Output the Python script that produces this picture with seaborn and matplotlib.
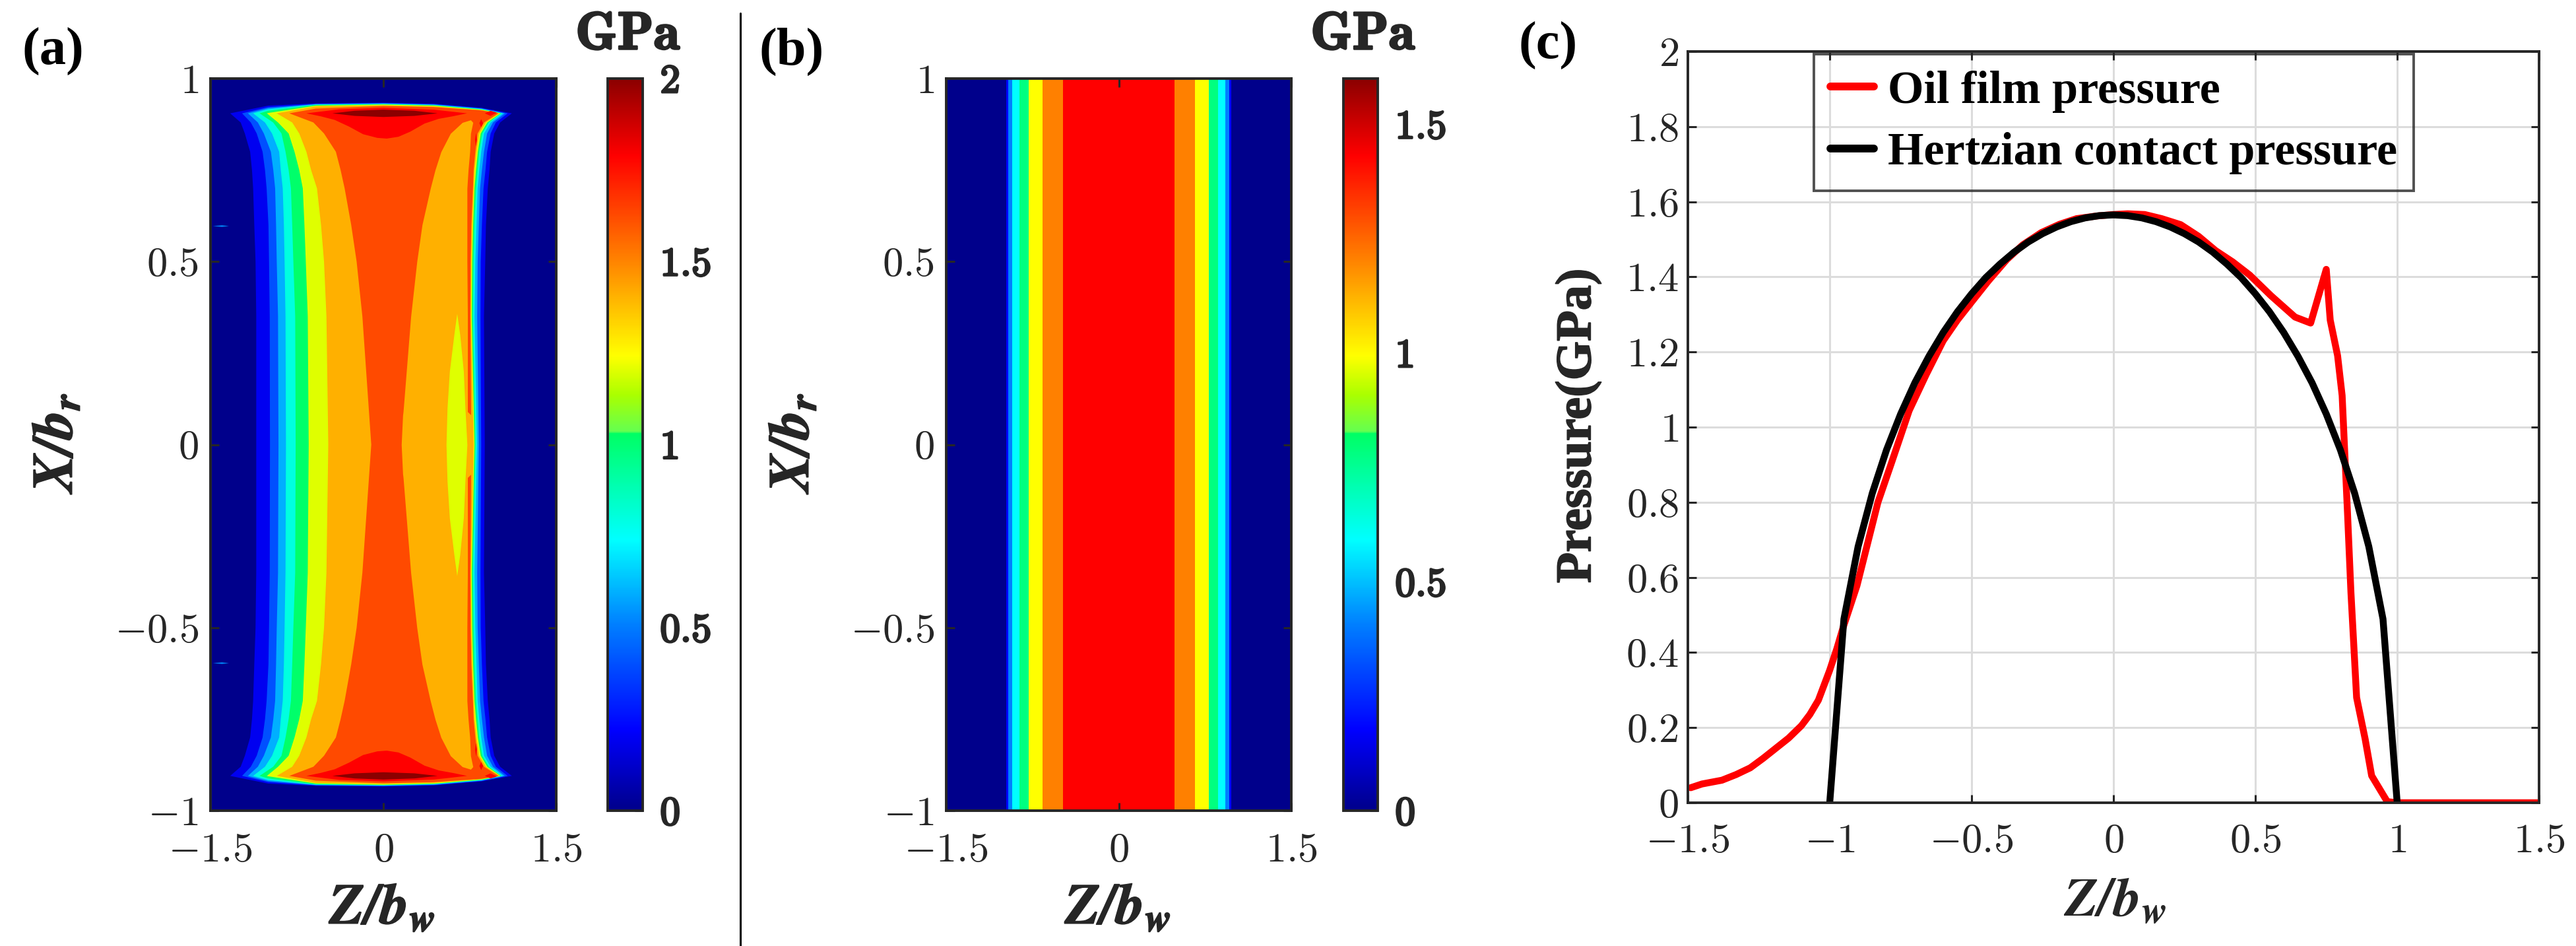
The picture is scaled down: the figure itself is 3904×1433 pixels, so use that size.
import numpy as np
import seaborn as sns
import matplotlib.pyplot as plt
import matplotlib.patheffects as pe
from matplotlib.cm import ScalarMappable
from matplotlib.colors import LinearSegmentedColormap, Normalize
from matplotlib.lines import Line2D

FIG_W, FIG_H = 3904, 1433

# colour bar anchors (pressure as a fraction of the bar, colour)
CMAP_POS = [0.0, 0.11, 0.255, 0.37, 0.515, 0.518, 0.568, 0.6215, 0.755, 0.895, 1.0]
CMAP_COL = ["#00008B", "#0000FF", "#0080FF", "#00FFFF", "#00FF64", "#64FF50",
            "#AAFF00", "#FFFF00", "#FF8000", "#FF0000", "#8B0000"]

# (a) contour bands. |X| stations up to the tip at 0.905
A_X = [0, 0.35, 0.5, 0.6, 0.7, 0.75, 0.8, 0.85, 0.88, 0.905]
A_COLORS = ["#0000F0", "#0050FF", "#00AFFF", "#00FFE0", "#00FF6A", "#DFFF00", "#FFB000", "#FF4A00"]
A_LEFT = [
    [-1.103, -1.103, -1.109, -1.120, -1.130, -1.140, -1.156, -1.202, -1.238, -1.329],
    [-0.984, -0.986, -0.992, -0.997, -1.013, -1.027, -1.048, -1.099, -1.150, -1.226],
    [-0.910, -0.914, -0.925, -0.931, -0.939, -0.955, -0.976, -1.037, -1.089, -1.175],
    [-0.845, -0.849, -0.857, -0.863, -0.873, -0.890, -0.904, -0.966, -1.027, -1.130],
    [-0.761, -0.765, -0.781, -0.791, -0.802, -0.822, -0.849, -0.884, -0.956, -1.074],
    [-0.648, -0.656, -0.673, -0.685, -0.699, -0.730, -0.771, -0.822, -0.914, -1.011],
    [-0.478, -0.494, -0.515, -0.541, -0.576, -0.627, -0.668, -0.730, -0.791, -0.925],
    [-0.105, -0.182, -0.232, -0.279, -0.336, -0.371, -0.412, -0.515, -0.607, -0.816],
]
A_RIGHT = [
    [0.880, 0.873, 0.884, 0.890, 0.906, 0.921, 0.931, 0.962, 1.013, 1.115],
    [0.849, 0.843, 0.845, 0.855, 0.869, 0.886, 0.900, 0.931, 0.976, 1.079],
    [0.828, 0.814, 0.818, 0.828, 0.839, 0.855, 0.873, 0.900, 0.951, 1.054],
    [0.812, 0.791, 0.798, 0.808, 0.818, 0.832, 0.849, 0.873, 0.931, 1.037],
    [0.800, 0.777, 0.783, 0.791, 0.804, 0.818, 0.832, 0.859, 0.915, 1.023],
    [0.791, 0.767, 0.771, 0.779, 0.791, 0.804, 0.820, 0.845, 0.902, 1.017],
    [0.783, 0.759, 0.763, 0.771, 0.783, 0.791, 0.808, 0.832, 0.890, 1.009],
    [0.763, 0.755, 0.757, 0.763, 0.777, 0.783, 0.798, 0.818, 0.873, 0.997],
]
# top edge of each band above the tips
A_DOME_Z = [-1.0, -0.586, 0.0, 0.439, 0.85]
A_DOME_X = [
    [0.926, 0.932, 0.934, 0.931, 0.920],
    [0.922, 0.931, 0.933, 0.930, 0.919],
    [0.919, 0.930, 0.932, 0.929, 0.918],
    [0.916, 0.929, 0.931, 0.928, 0.917],
    [0.912, 0.928, 0.930, 0.927, 0.916],
    [0.906, 0.926, 0.929, 0.926, 0.915],
    [0.906, 0.924, 0.927, 0.924, 0.914],
    [0.906, 0.918, 0.925, 0.922, 0.913],
]

# orange and yellow islands on the right of the hourglass
ORANGE_X = [0, 0.08, 0.09, 0.35, 0.5, 0.6, 0.7, 0.75, 0.8, 0.85, 0.88, 0.887]
ORANGE_L = [0.156, 0.168, 0.172, 0.238, 0.291, 0.336, 0.408, 0.449, 0.500, 0.582, 0.685, 0.757]
ORANGE_R = [0.763, 0.763, 0.730, 0.730, 0.726, 0.726, 0.726, 0.736, 0.750, 0.757, 0.777, 0.757]
YELLOW_X = [0, 0.1, 0.2, 0.3, 0.358]
YELLOW_L = [0.545, 0.554, 0.574, 0.613, 0.638]
YELLOW_R = [0.726, 0.709, 0.695, 0.664, 0.638]

# peaks near the two ends of the roller
RED_Z = [-0.668, -0.545, -0.422, -0.299, -0.176, -0.053, 0.029, 0.131, 0.234, 0.357, 0.480,
         0.603, 0.726, 0.439, 0.0, -0.381]
RED_X = [0.905, 0.897, 0.887, 0.869, 0.848, 0.838, 0.836, 0.841, 0.855, 0.877, 0.890,
         0.897, 0.905, 0.915, 0.920, 0.916]
DARK_Z = [-0.443, -0.25, 0.0, 0.27, 0.470, 0.27, 0.0, -0.25]
DARK_X = [0.905, 0.912, 0.915, 0.912, 0.905, 0.898, 0.895, 0.898]
SPOT1_Z = [0.880, 0.93, 0.985, 0.93]
SPOT1_X = [0.905, 0.912, 0.907, 0.898]
SPOT2_Z = [0.833, 0.849, 0.865, 0.849]
SPOT2_X = [0.878, 0.889, 0.878, 0.867]
SPOT3_Z = [0.796, 0.804, 0.812, 0.804]
SPOT3_X = [0.833, 0.851, 0.833, 0.815]
SPIKE_Z = [-1.48, -1.40, -1.34, -1.40]
SPIKE_X = [0.597, 0.599, 0.597, 0.595]

# (b) strips
B_EDGES = [-1.5, -0.977, -0.960, -0.926, -0.862, -0.782, -0.662, -0.484,
           0.484, 0.662, 0.782, 0.862, 0.926, 0.960, 0.977, 1.5]
B_COLORS = ["#00008B", "#0000FF", "#0080FF", "#00FFFF", "#00FF80", "#FFFF00", "#FF8000", "#FF0000",
            "#FF8000", "#FFFF00", "#00FF80", "#00FFFF", "#0080FF", "#0000FF", "#00008B"]

# (c) pressure profiles
OIL_Z = [-1.49, -1.45, -1.38, -1.33, -1.28, -1.235, -1.19, -1.145, -1.10, -1.07, -1.04, -1.0, -0.975,
         -0.953, -0.904, -0.87, -0.83, -0.78, -0.72, -0.66, -0.6, -0.55, -0.5, -0.44, -0.376, -0.32,
         -0.254, -0.19, -0.13, -0.06, 0.0, 0.05, 0.11, 0.17, 0.237, 0.3, 0.36, 0.42, 0.48, 0.555, 0.64,
         0.695, 0.75, 0.764, 0.79, 0.806, 0.825, 0.837, 0.857, 0.887, 0.91, 0.965, 1.0, 1.5]
OIL_P = [0.04, 0.05, 0.06, 0.075, 0.093, 0.118, 0.145, 0.172, 0.205, 0.235, 0.273, 0.353, 0.41,
         0.466, 0.578, 0.68, 0.80, 0.91, 1.044, 1.14, 1.23, 1.285, 1.333, 1.39, 1.446, 1.485,
         1.518, 1.54, 1.555, 1.562, 1.566, 1.568, 1.566, 1.555, 1.539, 1.508, 1.47, 1.44, 1.405, 1.35, 1.293,
         1.277, 1.42, 1.285, 1.19, 1.084, 0.77, 0.56, 0.28, 0.17, 0.072, 0.003, 0.0, 0.0]
HERTZ_Z = [-1.0, -0.95, -0.9, -0.85, -0.8, -0.75, -0.7, -0.65, -0.6, -0.55, -0.5, -0.45, -0.4,
           -0.35, -0.3, -0.25, -0.2, -0.15, -0.1, -0.05, 0.0, 0.05, 0.1, 0.15, 0.2, 0.25, 0.3,
           0.35, 0.4, 0.45, 0.5, 0.55, 0.6, 0.65, 0.7, 0.75, 0.8, 0.85, 0.9, 0.95, 1.0]
HERTZ_P = [0.0, 0.489, 0.682, 0.824, 0.939, 1.035, 1.118, 1.189, 1.252, 1.307, 1.355, 1.398, 1.434,
           1.466, 1.493, 1.515, 1.533, 1.547, 1.557, 1.563, 1.565, 1.563, 1.557, 1.547, 1.533, 1.515,
           1.493, 1.466, 1.434, 1.398, 1.355, 1.307, 1.252, 1.189, 1.118, 1.035, 0.939, 0.824, 0.682,
           0.489, 0.0]

C_XTICKS = [-1.5, -1, -0.5, 0, 0.5, 1, 1.5]
C_YTICKS = [0, 0.2, 0.4, 0.6, 0.8, 1, 1.2, 1.4, 1.6, 1.8, 2]

EDGE = "#262626"
SERIF = "Liberation Serif"
TICK_SIZE = 45
BOLD_SIZE = 44
HEAVY = [pe.withStroke(linewidth=2.2, foreground=EDGE)]
SEMI = [pe.withStroke(linewidth=1.2, foreground=EDGE)]


def px_axes(fig, left, top, right, bottom):
    return fig.add_axes([left / FIG_W, 1 - bottom / FIG_H, (right - left) / FIG_W, (bottom - top) / FIG_H])


def fig_text(fig, x, y, s, **kw):
    fig.text(x / FIG_W, 1 - y / FIG_H, s, ha="center", va="center", **kw)


def math_labels(values):
    out = []
    for v in values:
        out.append("$%g$" % v)
    return out


def style_axes(ax, xticks, yticks):
    ax.set_xlim(xticks[0], xticks[-1])
    ax.set_ylim(yticks[0], yticks[-1])
    ax.set_xticks(xticks)
    ax.set_yticks(yticks)
    ax.set_xticklabels(math_labels(xticks), fontsize=TICK_SIZE)
    ax.set_yticklabels(math_labels(yticks), fontsize=TICK_SIZE)
    ax.tick_params(axis="x", direction="in", top=True, bottom=True, length=9, width=2.2, color=EDGE,
                   labelcolor=EDGE, pad=24)
    ax.tick_params(axis="y", direction="in", left=True, right=True, length=9, width=2.2, color=EDGE,
                   labelcolor=EDGE, pad=13)
    for spine in ax.spines.values():
        spine.set_visible(True)
        spine.set_color(EDGE)
        spine.set_linewidth(2.8)
    ax.set_axisbelow(False)


def add_colorbar(fig, cax, cmap, vmax, ticks, labels):
    sm = ScalarMappable(norm=Normalize(0, vmax), cmap=cmap)
    cb = fig.colorbar(sm, cax=cax, ticks=ticks)
    cb.set_ticklabels(labels, fontsize=BOLD_SIZE, color=EDGE)
    cb.ax.tick_params(direction="in", right=True, length=9, width=2.2, color=EDGE, pad=19)
    for label in cb.ax.get_yticklabels():
        label.set_path_effects(HEAVY)
    cb.outline.set_edgecolor(EDGE)
    cb.outline.set_linewidth(2.8)


def draw_bands(ax):
    ax.set_facecolor("#00008B")
    xs = np.array(A_X)
    for i, color in enumerate(A_COLORS):
        left = np.array(A_LEFT[i])
        right = np.array(A_RIGHT[i])
        dome_z = np.array(A_DOME_Z)
        dome_x = np.array(A_DOME_X[i])
        keep = (dome_z > left[-1]) & (dome_z < right[-1])
        z_top = np.r_[left, dome_z[keep], right[::-1]]
        x_top = np.r_[xs, dome_x[keep], xs[::-1]]
        ax.fill(np.r_[z_top, z_top[::-1]], np.r_[x_top, -x_top[::-1]], color=color, lw=0)

    for xv, lv, rv, color in [(ORANGE_X, ORANGE_L, ORANGE_R, "#FFB000"),
                              (YELLOW_X, YELLOW_L, YELLOW_R, "#DFFF00")]:
        xv = np.array(xv)
        ax.fill_betweenx(np.r_[-xv[::-1], xv], np.r_[lv[::-1], lv], np.r_[rv[::-1], rv], color=color, lw=0)

    for zv, xv, color in [(RED_Z, RED_X, "#FF0000"), (DARK_Z, DARK_X, "#8B0000"),
                          (SPOT1_Z, SPOT1_X, "#FF0000"), (SPOT2_Z, SPOT2_X, "#FF0000"),
                          (SPOT3_Z, SPOT3_X, "#FF0000"), (SPIKE_Z, SPIKE_X, "#0090FF")]:
        ax.fill(zv, xv, color=color, lw=0)
        ax.fill(zv, -np.array(xv), color=color, lw=0)


def main():
    sns.set_theme(style="white")
    plt.rcParams["font.family"] = [SERIF, "DejaVu Serif"]
    plt.rcParams["mathtext.fontset"] = "cm"

    fig = plt.figure(figsize=(FIG_W / 100, FIG_H / 100), dpi=100, facecolor="white")
    jet = LinearSegmentedColormap.from_list("jet_gpa", list(zip(CMAP_POS, CMAP_COL)), N=512)

    # (a)
    ax_a = px_axes(fig, 319, 119, 843, 1228)
    draw_bands(ax_a)
    style_axes(ax_a, [-1.5, 0, 1.5], [-1, -0.5, 0, 0.5, 1])
    cax_a = px_axes(fig, 921, 119, 974, 1228)
    add_colorbar(fig, cax_a, jet, 2, [0, 0.5, 1, 1.5, 2],
                 ["$\\mathbf{0}$", "$\\mathbf{0.5}$", "$\\mathbf{1}$", "$\\mathbf{1.5}$", "$\\mathbf{2}$"])

    # (b)
    ax_b = px_axes(fig, 1434, 119, 1957, 1228)
    for i, color in enumerate(B_COLORS):
        ax_b.axvspan(B_EDGES[i], B_EDGES[i + 1], color=color, lw=0)
    style_axes(ax_b, [-1.5, 0, 1.5], [-1, -0.5, 0, 0.5, 1])
    cax_b = px_axes(fig, 2036, 119, 2088, 1228)
    add_colorbar(fig, cax_b, jet, 1.6, [0, 0.5, 1, 1.5],
                 ["$\\mathbf{0}$", "$\\mathbf{0.5}$", "$\\mathbf{1}$", "$\\mathbf{1.5}$"])

    # (c)
    ax_c = px_axes(fig, 2558, 78, 3848, 1216)
    ax_c.grid(True, color="#DCDCDC", linewidth=2.2)
    sns.lineplot(x=OIL_Z, y=OIL_P, color="#FF0000", linewidth=7.5, sort=False, estimator=None, ax=ax_c,
                 label="Oil film pressure")
    sns.lineplot(x=HERTZ_Z, y=HERTZ_P, color="black", linewidth=7.5, sort=False, estimator=None, ax=ax_c,
                 label="Hertzian contact pressure")
    style_axes(ax_c, C_XTICKS, C_YTICKS)
    ax_c.set_axisbelow(True)
    ax_c.tick_params(axis="x", pad=22)
    ax_c.tick_params(axis="y", pad=10)
    handles = [Line2D([], [], color="#FF0000", lw=8.5), Line2D([], [], color="black", lw=8.5)]
    leg = ax_c.legend(handles, ["Oil film pressure", "Hertzian contact pressure"], loc="upper left",
                      bbox_to_anchor=((2749 - 2558) / 1290, (1216 - 82) / 1138), borderaxespad=0,
                      prop={"family": SERIF, "weight": "bold", "size": 50.5}, frameon=True,
                      fancybox=False, facecolor="none", edgecolor=EDGE, framealpha=None,
                      handlelength=0.95, handletextpad=0.3, labelspacing=0.42, borderpad=0.35)
    leg.get_frame().set_linewidth(2.8)
    for text in leg.get_texts():
        text.set_color("black")

    # labels
    xlab = "$\\mathbfit{Z/b_w}$"
    ylab = "$\\mathbfit{X/b_r}$"
    fig_text(fig, 580, 1378, xlab, fontsize=62, color=EDGE, math_fontfamily="stix", path_effects=SEMI)
    fig_text(fig, 1695, 1378, xlab, fontsize=62, color=EDGE, math_fontfamily="stix", path_effects=SEMI)
    fig_text(fig, 3205, 1368, xlab, fontsize=60, color=EDGE, math_fontfamily="stix")
    fig_text(fig, 88, 670, ylab, fontsize=62, color=EDGE, rotation=90, math_fontfamily="stix", path_effects=SEMI)
    fig_text(fig, 1204, 670, ylab, fontsize=62, color=EDGE, rotation=90, math_fontfamily="stix", path_effects=SEMI)
    fig_text(fig, 2392, 645, "Pressure(GPa)", fontsize=55, color=EDGE, fontweight="bold", rotation=90,
             path_effects=SEMI)
    fig_text(fig, 952, 55, "$\\mathbf{GPa}$", fontsize=58, color=EDGE, path_effects=HEAVY)
    fig_text(fig, 2066, 55, "$\\mathbf{GPa}$", fontsize=58, color=EDGE, path_effects=HEAVY)
    fig_text(fig, 80, 78, "(a)", fontsize=58, color="black", fontweight="bold")
    fig_text(fig, 1200, 78, "(b)", fontsize=58, color="black", fontweight="bold")
    fig_text(fig, 2346, 69, "(c)", fontsize=58, color="black", fontweight="bold")

    # divider between (a) and the rest
    fig.add_artist(Line2D([1122 / FIG_W, 1122 / FIG_W], [1 - 20 / FIG_H, 0], color="black", lw=2.2))

    fig.savefig("out.png", dpi=100)


if __name__ == "__main__":
    main()
